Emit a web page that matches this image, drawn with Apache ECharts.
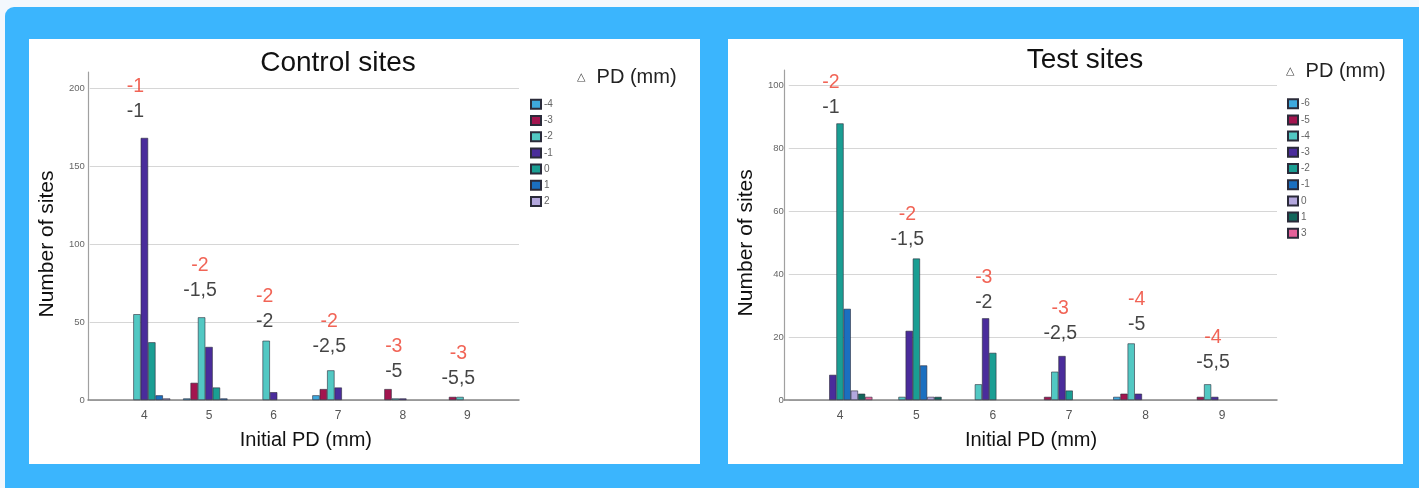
<!DOCTYPE html>
<html><head><meta charset="utf-8">
<script src="https://cdn.jsdelivr.net/npm/echarts@6/dist/echarts.min.js"></script>
<style>
html,body{margin:0;padding:0;width:1419px;height:488px;overflow:hidden;background:#f3f8fd;}
#frame{position:absolute;left:5px;top:7px;width:1414px;height:481px;background:#3bb5fd;border-radius:9px 0 0 0;}
.panel{position:absolute;top:39px;height:425px;background:#fff;}
#left{left:29px;width:671px;}
#right{left:728px;width:675px;}
</style></head><body>
<div id="frame"></div>
<div id="left" class="panel"></div>
<div id="right" class="panel"></div>
<script>
// ---------- data ----------
const categories = ['4', '5', '6', '7', '8', '9'];

// Control sites: Δ PD (mm) groups
const ctrlNames = ['-4', '-3', '-2', '-1', '0', '1', '2'];
const ctrlM4 = [0, 1, 0, 3, 0, 0];
const ctrlM3 = [0, 11, 0, 7, 7, 2];
const ctrlM2 = [55, 53, 38, 19, 1, 2];
const ctrlM1 = [168, 34, 5, 8, 1, 0];
const ctrlP0 = [37, 8, 0, 0, 0, 0];
const ctrlP1 = [3, 1, 0, 0, 0, 0];
const ctrlP2 = [1, 0, 0, 0, 0, 0];
const ctrlRedNotes = ['-1', '-2', '-2', '-2', '-3', '-3'];
const ctrlBlackNotes = ['-1', '-1,5', '-2', '-2,5', '-5', '-5,5'];
const ctrlNoteY = [193, 78, 58, 42, 26, 22];
const ctrlTicks = [0, 50, 100, 150, 200];

// Test sites
const testNames = ['-6', '-5', '-4', '-3', '-2', '-1', '0', '1', '3'];
const testM6 = [0, 0, 0, 0, 1, 0];
const testM5 = [0, 0, 0, 1, 2, 1];
const testM4 = [0, 1, 5, 9, 18, 5];
const testM3 = [8, 22, 26, 14, 2, 1];
const testM2 = [88, 45, 15, 3, 0, 0];
const testM1 = [29, 11, 0, 0, 0, 0];
const testP0 = [3, 1, 0, 0, 0, 0];
const testP1 = [2, 1, 0, 0, 0, 0];
const testP3 = [1, 0, 0, 0, 0, 0];
const testRedNotes = ['-2', '-2', '-3', '-3', '-4', '-4'];
const testBlackNotes = ['-1', '-1,5', '-2', '-2,5', '-5', '-5,5'];
const testNoteY = [97, 55, 35, 25, 28, 16];
const testTicks = [0, 20, 40, 60, 80, 100];

// ---------- styling ----------
const FONT = "'Liberation Sans', Arial, Helvetica, sans-serif";
const ctrlColors = ['#3ea9de', '#a3154f', '#52c8c3', '#4a2c9b', '#1a9e93', '#1b6fc0', '#b3a7dd'];
const testColors = ['#3ea9de', '#a3154f', '#52c8c3', '#4a2c9b', '#1a9e93', '#1b6fc0', '#b3a7dd', '#12665b', '#e4619a'];

function build(el, cfg) {
  const chart = echarts.init(el, null, { renderer: 'canvas' });
  const tickMax = cfg.ticks[cfg.ticks.length - 1];
  const tickInterval = cfg.ticks[1] - cfg.ticks[0];
  const series = cfg.names.map((n, i) => ({
    type: 'bar', name: n, xAxisIndex: 2, yAxisIndex: 2,
    // empty groups (count 0) draw no bar
    data: cfg.values[i].map(v => (v === 0 ? null : v)),
    barWidth: cfg.barWidth, barGap: '0%',
    itemStyle: { color: cfg.colors[i], borderColor: '#2b2b3a', borderWidth: 0.6 },
    silent: true, animation: false
  }));
  series.push({
    type: 'scatter', name: 'notes', xAxisIndex: 2, yAxisIndex: 2,
    data: categories.map((c, i) => [i, cfg.noteY[i]]),
    symbolSize: 1, itemStyle: { color: 'rgba(0,0,0,0)' }, silent: true, animation: false, z: 10,
    label: {
      show: true, position: 'inside', offset: [-9, 0],
      formatter: p => '{r|' + cfg.red[p.dataIndex] + '}\n{b|' + cfg.black[p.dataIndex] + '}',
      rich: {
        r: { color: '#ee3d2c', fontSize: 19.5, lineHeight: 25, fontFamily: FONT },
        b: { color: '#151515', fontSize: 19.5, lineHeight: 25, fontFamily: FONT }
      }
    }
  });
  chart.setOption({
    animation: false,
    textStyle: { fontFamily: FONT },
    title: [
      { text: cfg.title, left: cfg.titleX, top: cfg.titleTop, textAlign: 'center', padding: 0,
        textStyle: { fontSize: 28, fontWeight: 'normal', color: '#111', fontFamily: FONT } },
      { text: '{t|△}  PD (mm)', left: cfg.headX, top: cfg.headTop, padding: 0,
        textStyle: { fontSize: 20, fontWeight: 'normal', color: '#222', fontFamily: FONT,
          rich: { t: { fontSize: 11, color: '#444', fontFamily: 'DejaVu Sans', verticalAlign: 'middle' } } } }
    ],
    legend: {
      data: cfg.names, orient: 'vertical', left: cfg.legX, top: cfg.legTop,
      itemWidth: 10, itemHeight: 9, itemGap: 5.2, icon: 'rect', selectedMode: false,
      padding: 0, textStyle: { fontSize: 10, color: '#666', fontFamily: FONT, padding: [0, 0, 0, -2] }
    },
    grid: [
      Object.assign({ containLabel: false }, cfg.g0),
      Object.assign({ containLabel: false }, cfg.g1),
      Object.assign({ containLabel: false }, cfg.g2)
    ],
    xAxis: [
      { gridIndex: 0, type: 'value', min: 0, max: 1,
        axisLine: { show: true, lineStyle: { color: '#858585', width: 1.5 } },
        axisTick: { show: false }, axisLabel: { show: false }, splitLine: { show: false } },
      { gridIndex: 1, type: 'value', min: 0, max: 1, show: false },
      { gridIndex: 2, type: 'category', data: categories,
        axisLine: { show: false }, axisTick: { show: false },
        axisLabel: { color: '#555', fontSize: 12, margin: 10, fontFamily: FONT },
        name: 'Initial PD (mm)', nameLocation: 'middle', nameGap: 30,
        nameTextStyle: { fontSize: 20, color: '#111', fontFamily: FONT } }
    ],
    yAxis: [
      { gridIndex: 0, type: 'value', min: 0, max: 1,
        axisLine: { show: true, lineStyle: { color: '#a0a0a0', width: 1.2 } },
        axisTick: { show: false }, axisLabel: { show: false }, splitLine: { show: false } },
      { gridIndex: 1, type: 'value', min: 0, max: tickMax, interval: tickInterval,
        axisLine: { show: false }, axisTick: { show: false },
        axisLabel: { fontSize: 9.5, color: '#666', margin: 5, fontFamily: FONT },
        splitLine: { lineStyle: { color: '#d6d6d6', width: 1 } },
        name: 'Number of sites', nameLocation: 'middle', nameGap: cfg.yNameGap,
        nameTextStyle: { fontSize: 21, color: '#111', fontFamily: FONT } },
      { gridIndex: 2, type: 'value', min: 0, max: tickMax, show: false }
    ],
    series: series
  });
  return chart;
}

build(document.getElementById('left'), {
  title: 'Control sites', titleX: 309, titleTop: 10,
  headX: 548, headTop: 28,
  legX: 501, legTop: 59.8,
  names: ctrlNames, colors: ctrlColors,
  values: [ctrlM4, ctrlM3, ctrlM2, ctrlM1, ctrlP0, ctrlP1, ctrlP2],
  red: ctrlRedNotes, black: ctrlBlackNotes, noteY: ctrlNoteY,
  ticks: ctrlTicks, barWidth: 7.4, yNameGap: 27,
  g0: { left: 59, top: 33, width: 431, height: 328 },
  g1: { left: 59, top: 49, width: 431, height: 312 },
  g2: { left: 83.1, top: 49, width: 387.6, height: 312 }
});

build(document.getElementById('right'), {
  title: 'Test sites', titleX: 357, titleTop: 7,
  headX: 558, headTop: 22,
  legX: 559, legTop: 59.2,
  names: testNames, colors: testColors,
  values: [testM6, testM5, testM4, testM3, testM2, testM1, testP0, testP1, testP3],
  red: testRedNotes, black: testBlackNotes, noteY: testNoteY,
  ticks: testTicks, barWidth: 7.2, yNameGap: 26,
  g0: { left: 56, top: 31, width: 493, height: 330 },
  g1: { left: 56, top: 46.7, width: 493, height: 314.3 },
  g2: { left: 73.8, top: 46.7, width: 458.4, height: 314.3 }
});
</script>
</body></html>
